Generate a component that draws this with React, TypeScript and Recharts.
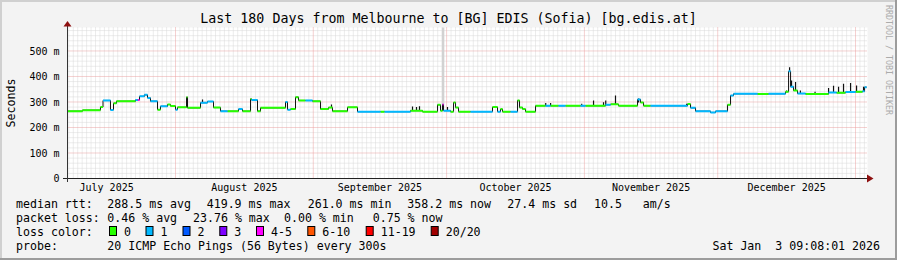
import React from 'react';
import { ComposedChart, Line, XAxis, YAxis, CartesianGrid, ReferenceLine } from 'recharts';

const FONT = '"DejaVu Sans Mono", monospace';

// x values are days since 2025-07-01 00:00
const DOMAIN_START = 6.7;
const DOMAIN_END = 186.7;
const DATA_END = 186.5;

const monthStartDays = [31, 62, 92, 123, 153, 184];
const monthMidDays = [15.5, 46.5, 77, 107.5, 138, 168.5];
const monthLabels = ['July 2025', 'August 2025', 'September 2025', 'October 2025', 'November 2025', 'December 2025'];
const yTicks = [0, 100, 200, 300, 400, 500];
const yTickLabels = ['0', '100 m', '200 m', '300 m', '400 m', '500 m'];

// median rtt step segments (start day, median ms, loss level)
const segStartDays = [
  6.70, 10.07, 14.12, 14.69, 16.37, 17.05, 17.72, 22.00, 22.55, 22.90,
  24.00, 24.70, 25.37, 26.95, 27.62, 29.20, 29.87, 31.00, 31.45, 33.48,
  33.70, 36.63, 38.20, 39.55, 41.13, 42.70, 45.18, 46.08, 47.88, 48.10,
  49.45, 50.13, 55.75, 56.20, 56.88, 58.00, 58.68, 60.25, 61.83, 63.63,
  65.43, 66.33, 69.70, 71.95, 77.13, 78.03, 83.88, 86.58, 89.96, 90.63,
  91.08, 91.31, 92.88, 93.56, 94.01, 94.68, 97.38, 102.33, 103.46, 104.13,
  104.58, 106.38, 107.96, 108.41, 109.08, 109.76, 112.01, 114.26, 115.38, 117.18,
  118.76, 122.13, 123.26, 127.76, 128.90, 130.68, 134.96, 135.63, 136.31, 137.88,
  146.21, 146.88, 148.01, 151.38, 152.51, 155.21, 155.88, 156.56, 161.96, 164.44,
  168.26, 168.94, 169.39, 170.06, 170.96, 172.76, 177.94, 179.74, 181.76, 184.01,
  185.59, 186.04,
];
const segMedianMs = [
  264, 268, 280, 306, 269, 295, 303, 308, 308, 322,
  328, 316, 303, 270, 283, 290, 284, 270, 279, 319,
  277, 297, 302, 278, 264, 264, 272, 264, 312, 308,
  264, 277, 300, 270, 272, 319, 306, 306, 303, 272,
  278, 264, 279, 262, 262, 262, 266, 262, 289, 266,
  290, 266, 262, 298, 278, 262, 262, 280, 262, 272,
  262, 262, 306, 278, 272, 262, 285, 285, 285, 285,
  285, 285, 285, 289, 291, 285, 310, 298, 285, 285,
  292, 277, 264, 259, 264, 289, 325, 332, 331, 332,
  340, 420, 360, 345, 333, 331, 337, 336, 339, 340,
  342, 358,
];
const segLoss = [
  0, 0, 0, 1, 1, 0, 0, 1, 4, 1,
  1, 1, 1, 0, 1, 0, 0, 1, 0, 0,
  0, 1, 1, 0, 1, 0, 1, 0, 0, 1,
  0, 0, 1, 1, 0, 0, 0, 1, 0, 0,
  0, 0, 0, 1, 0, 1, 0, 0, 0, 0,
  4, 1, 0, 0, 0, 0, 1, 0, 1, 0,
  0, 1, 0, 0, 0, 0, 0, 1, 0, 1,
  0, 1, 0, 1, 0, 0, 1, 0, 0, 1,
  0, 1, 1, 1, 1, 0, 1, 1, 0, 1,
  0, 1, 1, 0, 1, 0, 1, 0, 1, 0,
  1, 1,
];

// smoke spikes (day, from ms, to ms)
const smokeDays = [37.08, 66.10, 84.33, 85.23, 85.90, 92.20, 114.30, 115.40, 122.40, 125.06, 127.31, 127.80, 130.00, 135.20, 146.00, 168.49, 169.17, 169.61, 170.51, 171.60, 174.90, 177.94, 179.06, 180.19, 181.31, 182.89, 184.24, 185.81];
const smokeBaseMs = [297, 278, 266, 266, 266, 266, 285, 285, 285, 285, 285, 289, 291, 298, 285, 340, 420, 360, 345, 333, 331, 337, 337, 336, 336, 339, 340, 342];
const smokeTopMs = [310, 290, 282, 280, 283, 280, 296, 296, 293, 306, 299, 306, 325, 314, 293, 345, 436, 384, 378, 345, 340, 355, 364, 360, 371, 374, 365, 360];

const lossColors = ['#26ff00', '#00b8ff', '#0059ff', '#7e00ff', '#ff00ff', '#ff5500', '#ff0000', '#a10000'];
const lossLabels = ['0', '1', '2', '3', '4-5', '6-10', '11-19', '20/20'];
const lossBoxX = [109, 145.5, 182.5, 219.3, 256, 307.3, 365.7, 430.7];

const statsRtt = ['288.5 ms avg', '419.9 ms max', '261.0 ms min', '358.2 ms now', '27.4 ms sd', '10.5', 'am/s'];
const statsRttX = [107.3, 206.7, 307.7, 407.3, 507.3, 594, 642.7];
const statsLoss = ['0.46 % avg', '23.76 % max', '0.00 % min', '0.75 % now'];
const statsLossX = [107.3, 193, 284, 372.7];

const minorDays: number[] = [];
for (let d = 7; d <= 186; d++) if (!monthStartDays.includes(d)) minorDays.push(d);
const minorMs: number[] = [];
for (let v = 20; v < 592; v += 20) if (v % 100 !== 0) minorMs.push(v);

function buildRows() {
  const rows: any[] = [];
  for (let i = 0; i < segStartDays.length; i++) {
    const s = segStartDays[i];
    const e = i + 1 < segStartDays.length ? segStartDays[i + 1] : DATA_END;
    const v = segMedianMs[i];
    const key = 'l' + segLoss[i];
    rows.push({ d: s, all: v, [key]: v });
    rows.push({ d: e, all: v, [key]: v });
    rows.push({ d: e });
  }
  for (let i = 0; i < smokeDays.length; i++) {
    rows.push({ d: smokeDays[i], smoke: smokeBaseMs[i] });
    rows.push({ d: smokeDays[i], smoke: smokeTopMs[i] });
    rows.push({ d: smokeDays[i] });
  }
  return rows;
}

const txt = { fontFamily: FONT, fill: '#000', whiteSpace: 'pre' as const };

export default function App() {
  const rows = buildRows();
  return (
    <div style={{ position: 'absolute', left: 0, top: 0, width: 897, height: 260, background: '#f3f3f3', overflow: 'hidden' }}>
      <ComposedChart width={897} height={260} data={rows} margin={{ top: 27.5, right: 29.5, bottom: 61.5, left: 0.5 }}>
        <CartesianGrid fill="#ffffff" stroke="#d9d9d9" strokeDasharray="1 1" horizontalValues={minorMs} verticalValues={minorDays} />
        <CartesianGrid stroke="#eaa2a2" strokeDasharray="1 1" horizontalValues={yTicks.slice(1)} verticalValues={monthStartDays} />
        <XAxis
          type="number"
          dataKey="d"
          domain={[DOMAIN_START, DOMAIN_END]}
          allowDataOverflow
          ticks={monthMidDays}
          tickFormatter={(v: number) => monthLabels[monthMidDays.indexOf(v)] ?? ''}
          interval={0}
          height={20}
          axisLine={{ stroke: '#222' }}
          tickLine={false}
          tickSize={3}
          tickMargin={2}
          tick={{ fontFamily: FONT, fontSize: 10, fill: '#000' }}
        />
        <YAxis
          type="number"
          domain={[0, 592]}
          allowDataOverflow
          ticks={yTicks}
          tickFormatter={(v: number) => yTickLabels[yTicks.indexOf(v)] ?? ''}
          interval={0}
          width={67}
          axisLine={{ stroke: '#333' }}
          tickLine={false}
          tickSize={5}
          tickMargin={3}
          tick={{ fontFamily: FONT, fontSize: 10, fill: '#000' }}
        />
        <ReferenceLine segment={[{ x: 91.2, y: 290 }, { x: 91.2, y: 592 }]} stroke="#d2d2d2" strokeWidth={2.5} />
        <Line dataKey="smoke" stroke="#111" strokeWidth={1.2} dot={false} activeDot={false} connectNulls={false} isAnimationActive={false} type="linear" />
        <Line dataKey="all" stroke="#111" strokeWidth={1} dot={false} activeDot={false} connectNulls isAnimationActive={false} type="linear" />
        <Line dataKey="l0" stroke={lossColors[0]} strokeWidth={2} dot={false} activeDot={false} connectNulls={false} isAnimationActive={false} type="linear" />
        <Line dataKey="l1" stroke={lossColors[1]} strokeWidth={2} dot={false} activeDot={false} connectNulls={false} isAnimationActive={false} type="linear" />
        <Line dataKey="l4" stroke={lossColors[4]} strokeWidth={2} dot={false} activeDot={false} connectNulls={false} isAnimationActive={false} type="linear" />
      </ComposedChart>
      <svg width={897} height={260} style={{ position: 'absolute', left: 0, top: 0, pointerEvents: 'none' }}>
        {/* frame */}
        <rect x={0} y={0} width={897} height={2} fill="#d0d0d0" />
        <rect x={0} y={0} width={2} height={260} fill="#d0d0d0" />
        <rect x={0} y={258} width={897} height={2} fill="#9c9c9c" />
        <rect x={895} y={0} width={2} height={260} fill="#9c9c9c" />
        {/* axis extensions and arrows */}
        <line x1={63} y1={178.5} x2={67.5} y2={178.5} stroke="#222" />
        <line x1={67.5} y1={178.5} x2={67.5} y2={182} stroke="#333" />
        <line x1={67.5} y1={24} x2={67.5} y2={28} stroke="#333" />
        <polygon points="63.5,26.5 71.5,26.5 67.5,21" fill="#8e1010" />
        <polygon points="867,174.5 867,182.5 873.5,178.5" fill="#8e1010" />
        {/* title */}
        <text x={448.5} y={23.3} textAnchor="middle" fontSize={13.3} style={txt}>Last 180 Days from Melbourne to [BG] EDIS (Sofia) [bg.edis.at]</text>
        <text transform="translate(15,103) rotate(-90)" textAnchor="middle" fontSize={11.6} style={txt}>Seconds</text>
        <text transform="translate(885.5,60) rotate(90)" textAnchor="middle" fontSize={8.3} style={{ ...txt, fill: '#ababab' }}>RRDTOOL / TOBI OETIKER</text>
        {/* legend */}
        <text x={16} y={207.5} fontSize={11.6} style={txt}>median rtt:</text>
        {statsRtt.map((s, i) => (
          <text key={'r' + i} x={statsRttX[i]} y={207.5} fontSize={11.6} style={txt}>{s}</text>
        ))}
        <text x={16} y={221.5} fontSize={11.6} style={txt}>packet loss:</text>
        {statsLoss.map((s, i) => (
          <text key={'p' + i} x={statsLossX[i]} y={221.5} fontSize={11.6} style={txt}>{s}</text>
        ))}
        <text x={16} y={235.5} fontSize={11.6} style={txt}>loss color:</text>
        {lossLabels.map((s, i) => (
          <g key={'c' + i}>
            <rect x={lossBoxX[i] + 0.5} y={226.5} width={7} height={9} fill={lossColors[i]} stroke="#000" strokeWidth={1} />
            <text x={lossBoxX[i] + 15} y={235.5} fontSize={11.6} style={txt}>{s}</text>
          </g>
        ))}
        <text x={16} y={249.5} fontSize={11.6} style={txt}>probe:</text>
        <text x={107.3} y={249.5} fontSize={11.6} style={txt}>20 ICMP Echo Pings (56 Bytes) every 300s</text>
        <text x={880} y={249.5} textAnchor="end" fontSize={11.6} style={txt} xmlSpace="preserve">Sat Jan  3 09:08:01 2026</text>
      </svg>
    </div>
  );
}
